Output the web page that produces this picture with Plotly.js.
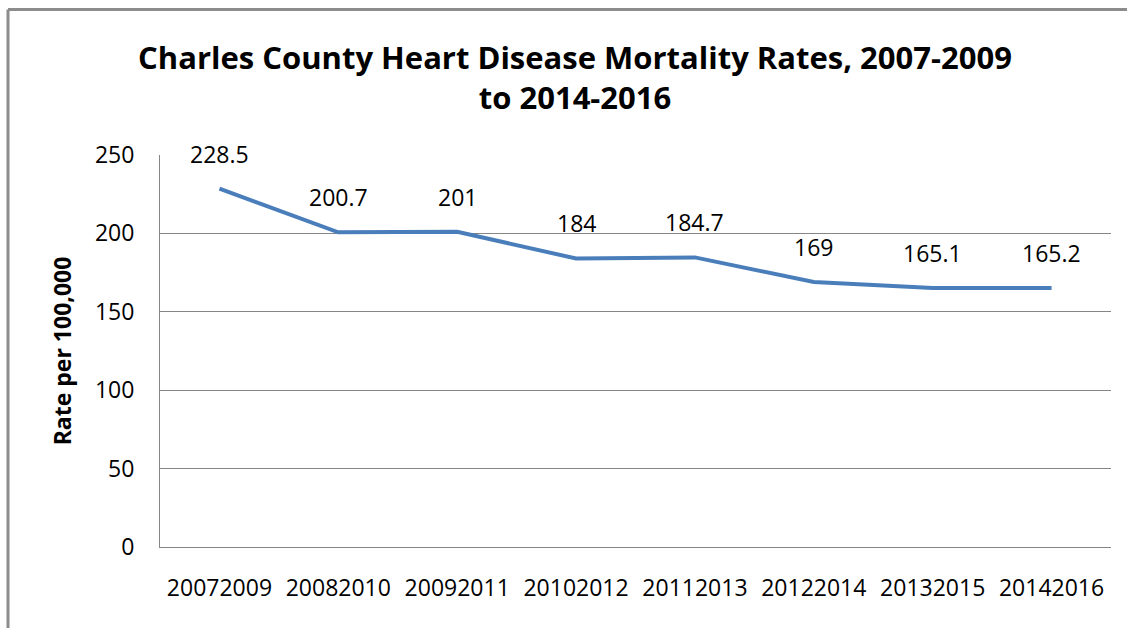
<!DOCTYPE html>
<html><head><meta charset="utf-8">
<script src="https://cdn.plot.ly/plotly-3.0.1.min.js"></script>
<style>html,body{margin:0;padding:0;background:#fff}#c{width:1127px;height:628px}</style>
</head><body><div id="c"></div>
<script>
const categories = ["20072009","20082010","20092011","20102012","20112013","20122014","20132015","20142016"];
const rates = [228.5, 200.7, 201, 184, 184.7, 169, 165.1, 165.2];
const rateLabels = ["228.5","200.7","201","184","184.7","169","165.1","165.2"];
const yTicks = [0, 50, 100, 150, 200, 250];

const FONT = "Open Sans, sans-serif";
const trace = {
  x: categories, y: rates, type: "scatter", mode: "lines",
  line: {color: "#4a7ebb", width: 4}, hoverinfo: "none"
};
const annotations = rates.map((v, i) => ({
  x: i, y: v, xref: "x", yref: "y", text: rateLabels[i],
  showarrow: false, yanchor: "bottom", yshift: 17,
  font: {family: FONT, size: 23, color: "#000"}
}));
const W = 951, H = 392;
const layout = {
  width: 1127, height: 628,
  margin: {l: 160, r: 16, t: 155, b: 81},
  paper_bgcolor: "#fff", plot_bgcolor: "#fff",
  showlegend: false,
  title: {
    text: "<b>Charles County Heart Disease Mortality Rates, 2007-2009<br>to 2014-2016</b>",
    x: 575/1127, xanchor: "center", xref: "container",
    y: 1 - 69/628, yanchor: "middle", yref: "container",
    font: {family: FONT, size: 31, color: "#000"}
  },
  xaxis: {
    type: "category", range: [-0.5, 7.5],
    showgrid: false, showline: true, linecolor: "#868686", linewidth: 1,
    ticks: "", ticklabelstandoff: 20,
    tickfont: {family: FONT, size: 23, color: "#000"}, fixedrange: true
  },
  yaxis: {
    range: [0, 250], tickvals: yTicks, ticktext: yTicks.map(String),
    showgrid: true, gridcolor: "#868686", gridwidth: 1,
    showline: true, linecolor: "#868686", linewidth: 1,
    zeroline: false, ticks: "", ticklabelstandoff: 20,
    tickfont: {family: FONT, size: 23, color: "#000"},
    title: {text: "<b>Rate per 100,000</b>", standoff: 16, font: {family: FONT, size: 23, color: "#000"}},
    fixedrange: true
  },
  annotations: annotations,
  shapes: [
    {type: "line", xref: "paper", yref: "paper", x0: -152/W, x1: (1127-160)/W, y0: 1 + 145.5/H, y1: 1 + 145.5/H, line: {color: "#8c8c8c", width: 3}},
    {type: "line", xref: "paper", yref: "paper", x0: -152/W, x1: -152/W, y0: 1 + 145.5/H, y1: -81/H, line: {color: "#8c8c8c", width: 3}}
  ]
};
Plotly.newPlot("c", [trace], layout, {displayModeBar: false, staticPlot: true});
</script></body></html>
